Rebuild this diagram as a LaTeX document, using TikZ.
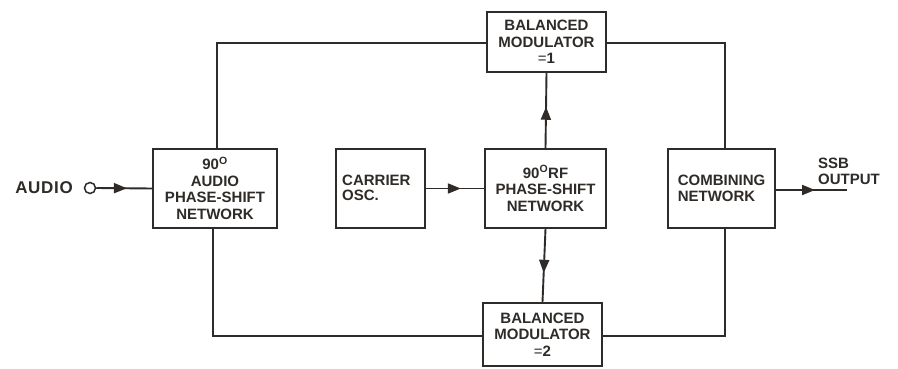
\documentclass[tikz,border=0pt]{standalone}
\usepackage{fontspec}
\setmainfont{Liberation Sans}
\usetikzlibrary{arrows.meta,decorations.markings}
\definecolor{ink}{HTML}{2E2B28}
\tikzset{
  blk/.style={draw=ink, line width=1.9pt, rectangle, align=center, inner sep=0pt,
    font=\fontsize{15}{16.5}\selectfont\bfseries, text=ink},
  wire/.style={draw=ink, line width=1.9pt},
  midarrow/.style={wire, postaction={decorate}, decoration={markings,
    mark=at position #1 with {\arrow{Triangle[length=13pt,width=10pt]}}}},
  lbl/.style={font=\fontsize{15.5}{18}\selectfont\bfseries, text=ink, inner sep=0pt, align=left}
}
\newcommand{\degO}{\textsuperscript{O}}
\begin{document}
\begin{tikzpicture}[x=1pt,y=-1pt]
\useasboundingbox[fill=white] (0,0) rectangle (898,369);
\node[blk, minimum width=124pt, minimum height=79pt] (aud) at (215,188.5)
  {90\degO\\AUDIO\\PHASE-SHIFT\\NETWORK};
\node[blk, minimum width=89pt, minimum height=79pt] (car) at (380.5,188.5) {};
\node[lbl, font=\fontsize{15}{15}\selectfont\bfseries, anchor=west] (cart) at (342,188) {CARRIER\\OSC.};
\node[blk, minimum width=121pt, minimum height=79pt] (rf) at (545.5,188.5)
  {90\degO RF\\PHASE-SHIFT\\NETWORK};
\node[blk, minimum width=119pt, minimum height=60pt] (m1) at (546.5,42)
  {BALANCED\\MODULATOR\\{\mdseries =}1};
\node[blk, minimum width=119pt, minimum height=63pt] (m2) at (542.5,334.5)
  {BALANCED\\MODULATOR\\{\mdseries =}2};
\node[blk, minimum width=107pt, minimum height=79pt, align=left] (cmb) at (721.5,188.5)
  {COMBINING\\NETWORK};
\node[lbl, anchor=east, font=\fontsize{17}{18}\selectfont\bfseries\addfontfeature{LetterSpace=4}] (audl) at (73,188) {AUDIO};
\node[circle, draw=ink, line width=1.5pt, minimum size=11pt, inner sep=0pt] (in) at (90,188) {};
\node[lbl, anchor=west, font=\fontsize{15}{16}\selectfont\bfseries] (ssb) at (818,171) {SSB\\OUTPUT};
\coordinate (out) at (847,190);
% connectors
\draw[midarrow=0.55] (in.east) -- (aud.west);
\draw[midarrow=0.6] (car.east) -- (rf.west);
\draw[midarrow=0.55] (rf.north) -- (m1.south);
\draw[midarrow=0.6] (rf.south) -- (m2.north);
\draw[midarrow=0.55] (cmb.east |- out) -- (out);
\draw[wire] (aud.north -| 217,0) |- (m1.west |- 0,43);
\draw[wire] (aud.south -| 213,0) |- (m2.west |- 0,336);
\draw[wire] (m1.east |- 0,43) -| (cmb.north -| 725,0);
\draw[wire] (m2.east |- 0,336) -| (cmb.south -| 725,0);
\end{tikzpicture}
\end{document}
